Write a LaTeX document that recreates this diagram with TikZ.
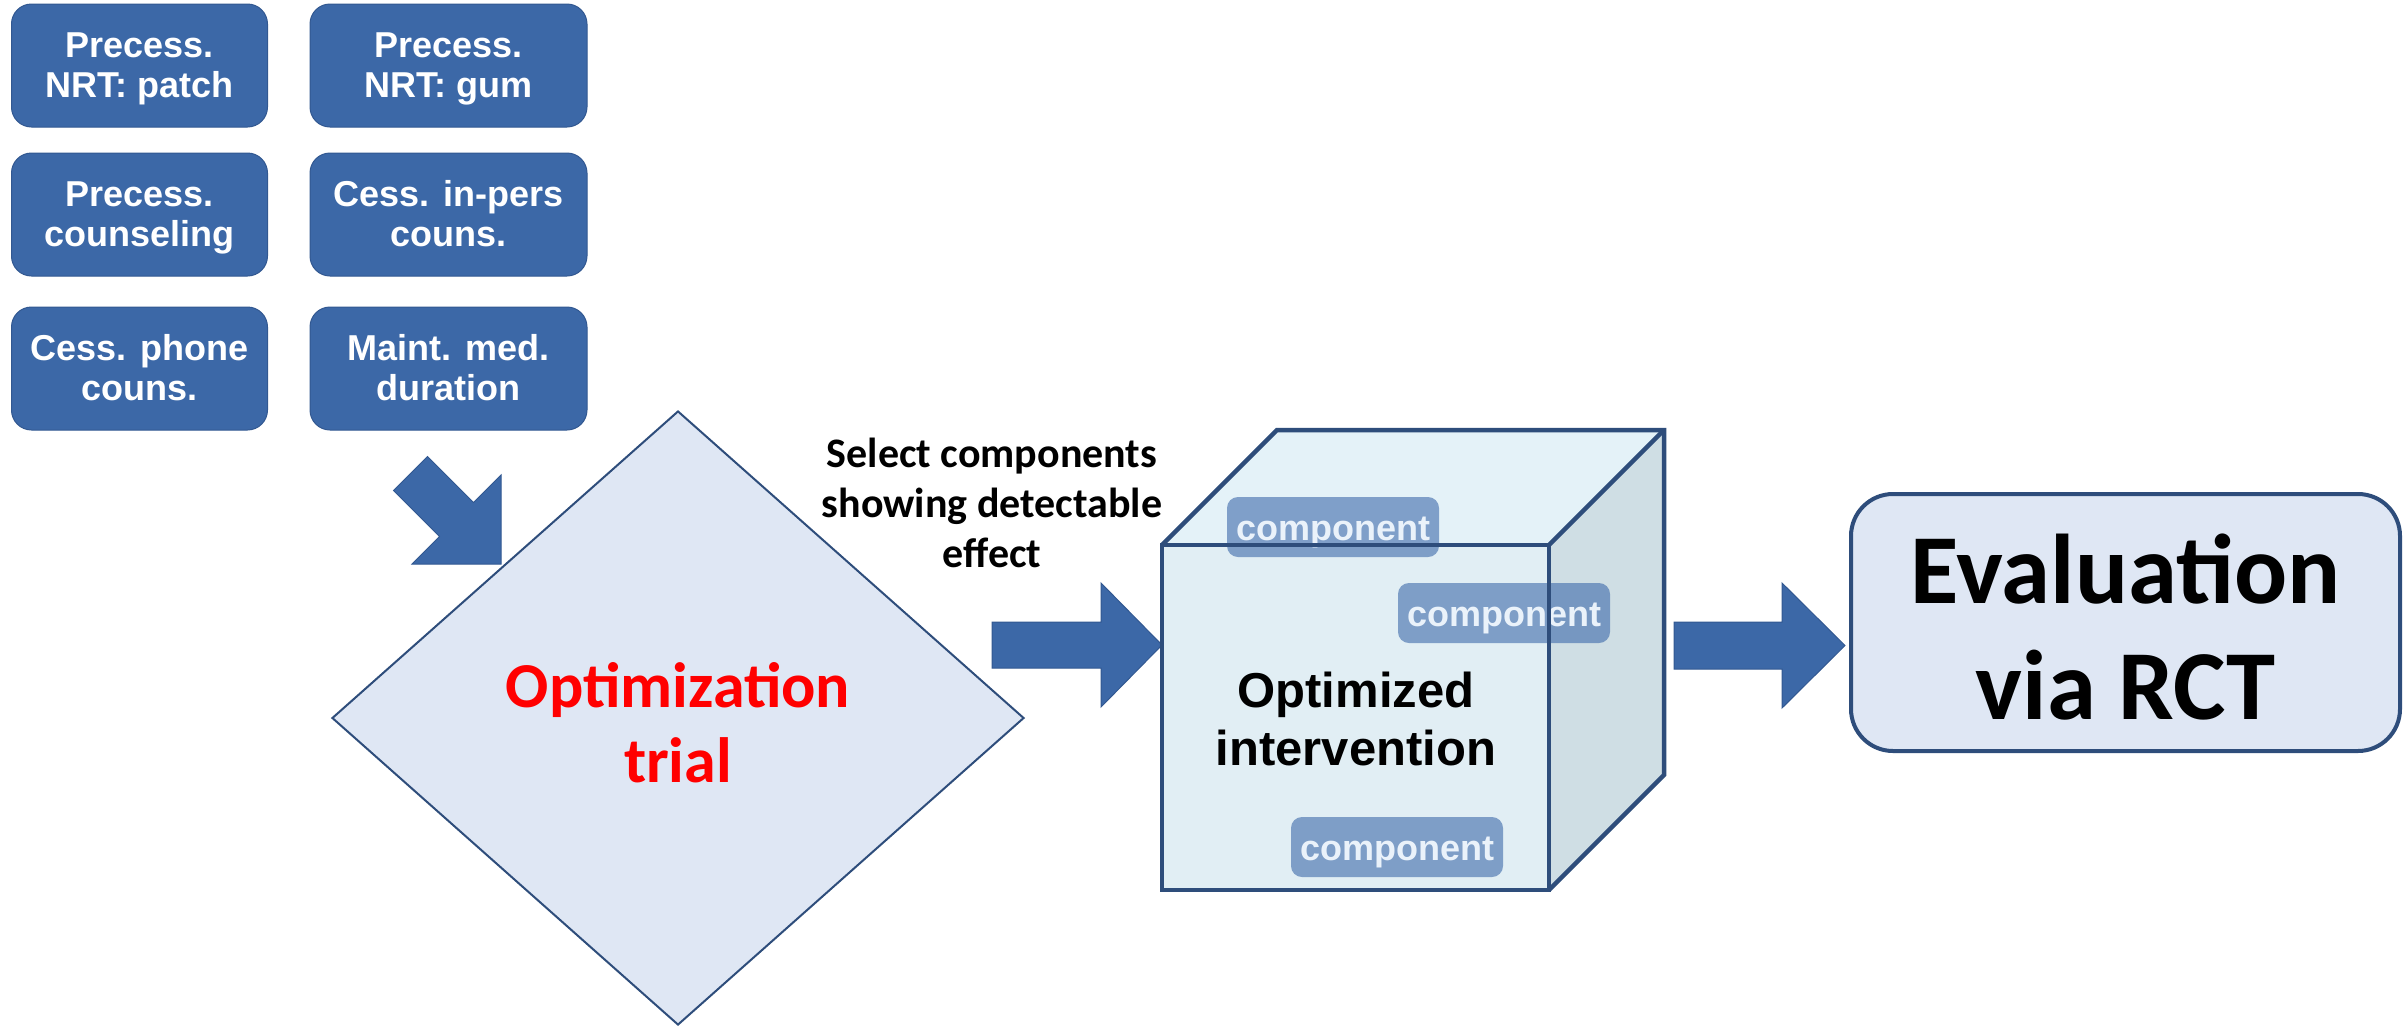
\documentclass[tikz,border=0pt]{standalone}
\usepackage{fontspec}
\setmainfont{Liberation Sans}
\newfontfamily\calibri{Carlito}
\usetikzlibrary{shapes.geometric}

\definecolor{boxblue}{RGB}{60,104,167}
\definecolor{boxedge}{RGB}{50,88,145}
\definecolor{navy}{RGB}{46,77,123}
\definecolor{paleblue}{RGB}{223,231,244}
\definecolor{cubefront}{RGB}{225,238,244}
\definecolor{cubetop}{RGB}{228,242,248}
\definecolor{cubeside}{RGB}{207,222,228}
\definecolor{compblue}{RGB}{60,105,170}
\definecolor{comptext}{RGB}{234,242,250}

% struts that fix line height/depth so multi-line labels sit on fixed baselines
\newcommand\bxs{\rule[-8pt]{0pt}{40pt}}
\newcommand\trs{\rule[-10pt]{0pt}{74pt}}
\newcommand\evs{\rule[-19.5pt]{0pt}{116pt}}
\newcommand\sls{\rule[-12pt]{0pt}{50pt}}
\newcommand\ois{\rule[-13pt]{0pt}{58pt}}
\newcommand\cps{\rule[-8pt]{0pt}{42pt}}

\begin{document}
\begin{tikzpicture}[x=1pt,y=-1pt,
  optbox/.style={rectangle, rounded corners=20pt, fill=boxblue, draw=boxedge,
    line width=1pt, text=white, inner sep=0pt, minimum height=123pt,
    font=\fontsize{36}{40}\selectfont\bfseries, align=center},
  comp/.style={rectangle, rounded corners=11pt, fill=compblue, fill opacity=0.6,
    text opacity=1, text=comptext, inner sep=0pt, minimum width=212pt,
    minimum height=60pt, font=\fontsize{36}{40}\selectfont\bfseries},
  blockarrow/.style={fill=boxblue, draw=boxedge, line width=1pt, line join=miter},
  edge/.style={draw=navy, line width=4.5pt, line join=miter}
]
\fill[white] (0,0) rectangle (2407,1026);
\useasboundingbox (0,0) rectangle (2407,1026);

% candidate components
\node[optbox, minimum width=256pt] (patch) at (139.5,65.5) {\bxs Precess.\\\bxs NRT: patch};
\node[optbox, minimum width=277pt] (gum) at (448.5,65.5) {\bxs Precess.\\\bxs NRT: gum};
\node[optbox, minimum width=256pt] (pcouns) at (139.5,214.5) {\bxs Precess.\\\bxs counseling};
\node[optbox, minimum width=277pt] (inpers) at (448.5,214.5) {\bxs Cess. in-pers\\\bxs couns.};
\node[optbox, minimum width=256pt] (phone) at (139.5,368.5) {\bxs Cess. phone\\\bxs couns.};
\node[optbox, minimum width=277pt] (maint) at (448.5,368.5) {\bxs Maint. med.\\\bxs duration};

% diagonal block arrow into the trial
\path[blockarrow] (427.5,456.5) -- (473.5,502.5) -- (501,475) -- (501,564)
  -- (412,564) -- (439.5,536.5) -- (393.5,490.5) -- cycle;

% optimization trial
\node[diamond, draw=navy, line width=2pt, fill=paleblue, minimum width=692pt,
  minimum height=614pt, inner sep=0pt, text=red,
  font=\calibri\bfseries\fontsize{64}{74}\selectfont, align=center]
  (trial) at (678,718) {\trs Optimization\\\trs trial};

% selection label
\node[font=\calibri\bfseries\fontsize{42}{50}\selectfont, align=center, inner sep=0pt]
  (select) at (992,504) {\sls Select components\\\sls showing detectable\\\sls effect};

% block arrow into the cube
\path[blockarrow] (992,622) -- (1101,622) -- (1101,583) -- (1162,645)
  -- (1101,707) -- (1101,668) -- (992,668) -- cycle;

% optimized intervention cube
\coordinate (ftl) at (1162,545);
\coordinate (ftr) at (1549,545);
\coordinate (fbl) at (1162,890);
\coordinate (fbr) at (1549,890);
\coordinate (btl) at (1277,430);
\coordinate (btr) at (1664,430);
\coordinate (bbr) at (1664,775);
\fill[cubefront] (ftl) rectangle (fbr);
\fill[cubetop] (ftl) -- (btl) -- (btr) -- (ftr) -- cycle;
\fill[cubeside] (ftr) -- (btr) -- (bbr) -- (fbr) -- cycle;

\node[comp] (comp1) at (1333,527) {\cps component};
\node[comp] (comp2) at (1504,613) {\cps component};
\node[comp] (comp3) at (1397,847) {\cps component};

\node[font=\fontsize{49}{58}\selectfont\bfseries, align=center, inner sep=0pt]
  (optint) at (1356,720) {\ois Optimized\\\ois intervention};

\path[edge] (ftl) rectangle (fbr);
\path[edge] (ftl) -- (btl) -- (btr) -- (bbr) -- (fbr);
\path[edge] (ftr) -- (btr);

% block arrow into the evaluation
\path[blockarrow] (1674,622) -- (1782,622) -- (1782,583) -- (1845,645.5)
  -- (1782,708) -- (1782,669) -- (1674,669) -- cycle;

% evaluation
\node[rectangle, rounded corners=42pt, draw=navy, line width=4pt, fill=paleblue,
  minimum width=549pt, minimum height=257pt, inner sep=0pt,
  font=\calibri\bfseries\fontsize{99}{116}\selectfont, align=center]
  (rct) at (2125.5,622.5) {\evs Evaluation\\\evs via RCT};
\end{tikzpicture}
\end{document}
